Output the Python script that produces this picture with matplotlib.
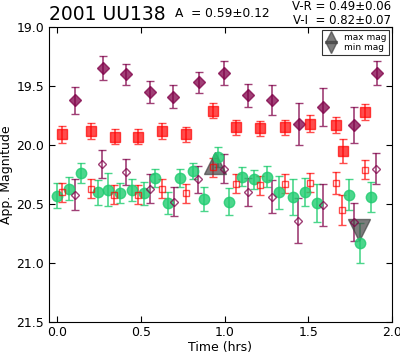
import numpy as np
import matplotlib
matplotlib.use("Agg")
import matplotlib.pyplot as plt

# I band (filled diamonds) and shifted V-I (open diamonds)
t_i = [0.108, 0.275, 0.413, 0.551, 0.689, 0.844, 0.994, 1.138, 1.281, 1.443, 1.587, 1.772, 1.910]
mag_i = [19.62, 19.35, 19.40, 19.55, 19.59, 19.47, 19.39, 19.58, 19.62, 19.82, 19.68, 19.83, 19.39]
err_i = [0.115, 0.10, 0.09, 0.095, 0.10, 0.09, 0.10, 0.10, 0.125, 0.18, 0.16, 0.15, 0.10]
t_i2 = [0.108, 0.269, 0.413, 0.551, 0.695, 0.838, 0.994, 1.138, 1.281, 1.437, 1.587, 1.772, 1.904]
mag_i2 = [20.42, 20.16, 20.23, 20.37, 20.48, 20.29, 20.20, 20.40, 20.44, 20.64, 20.51, 20.65, 20.20]
err_i2 = [0.13, 0.12, 0.11, 0.12, 0.12, 0.115, 0.12, 0.12, 0.14, 0.19, 0.18, 0.16, 0.13]

# R band (filled squares) and shifted V-R (open squares)
t_r = [0.030, 0.204, 0.347, 0.479, 0.623, 0.766, 0.928, 1.066, 1.210, 1.359, 1.509, 1.665, 1.707, 1.838]
mag_r = [19.91, 19.88, 19.93, 19.93, 19.88, 19.91, 19.71, 19.85, 19.86, 19.85, 19.82, 19.83, 20.05, 19.72]
err_r = [0.07, 0.07, 0.065, 0.065, 0.07, 0.065, 0.065, 0.065, 0.065, 0.065, 0.07, 0.07, 0.10, 0.065]
t_r2 = [0.030, 0.204, 0.341, 0.479, 0.623, 0.766, 0.928, 1.066, 1.210, 1.359, 1.509, 1.665, 1.701, 1.838]
mag_r2 = [20.40, 20.37, 20.42, 20.42, 20.37, 20.41, 20.19, 20.33, 20.34, 20.33, 20.32, 20.32, 20.55, 20.21]
err_r2 = [0.08, 0.08, 0.08, 0.08, 0.08, 0.08, 0.08, 0.08, 0.08, 0.08, 0.08, 0.095, 0.13, 0.08]

# V band (green circles)
t_v = [0.0, 0.072, 0.144, 0.240, 0.305, 0.377, 0.449, 0.515, 0.581, 0.659, 0.731, 0.808, 0.874, 0.958,
       1.024, 1.102, 1.174, 1.251, 1.323, 1.407, 1.479, 1.551, 1.743, 1.808, 1.874]
mag_v = [20.43, 20.37, 20.24, 20.40, 20.38, 20.41, 20.38, 20.41, 20.28, 20.49, 20.28, 20.22, 20.46, 20.10,
         20.48, 20.27, 20.29, 20.27, 20.40, 20.44, 20.40, 20.49, 20.42, 20.83, 20.44]
err_v = [0.105, 0.095, 0.085, 0.105, 0.14, 0.085, 0.095, 0.095, 0.075, 0.095, 0.075, 0.065, 0.10, 0.085,
         0.115, 0.08, 0.08, 0.09, 0.14, 0.15, 0.12, 0.16, 0.135, 0.17, 0.125]

# max / min magnitude markers
t_max, mag_max = 0.94, 20.15
t_min, mag_min = 1.80, 20.72

purple = "#800048"
green = "#1fcc70"

fig = plt.figure(figsize=(4.0, 3.55), dpi=100)
ax = fig.add_axes([0.1225, 0.093, 0.8575, 0.831])

ax.errorbar(t_i, mag_i, yerr=err_i, fmt="D", color=purple, ms=6.5, mec=purple,
            capsize=3, elinewidth=1.2, alpha=0.75)
ax.errorbar(t_r, mag_r, yerr=err_r, fmt="s", color="red", ms=6.5, mec="red",
            capsize=3, elinewidth=1.2, alpha=0.7)
ax.errorbar(t_v, mag_v, yerr=err_v, fmt="o", color=green, ms=7.5, mec=green,
            capsize=3, elinewidth=1.2, alpha=0.8)
ax.errorbar(t_r2, mag_r2, yerr=err_r2, fmt="s", color="red", ms=4.2, mfc="none",
            mec="red", capsize=3, elinewidth=1.2, alpha=0.7)
ax.errorbar(t_i2, mag_i2, yerr=err_i2, fmt="D", color=purple, ms=4.2, mfc="none",
            mec=purple, capsize=3, elinewidth=1.2, alpha=0.75)

ax.plot([t_max], [mag_max], "^", color="#444444", ms=16, alpha=0.7, label="max mag")
ax.plot([t_min], [mag_min], "v", color="#444444", ms=16, alpha=0.7, label="min mag")

ax.set_xlim(-0.05, 2.0)
ax.set_ylim(21.5, 19.0)
ax.set_xticks([0.0, 0.5, 1.0, 1.5, 2.0])
ax.set_yticks([19.0, 19.5, 20.0, 20.5, 21.0, 21.5])
ax.tick_params(direction="in", top=True, right=True, labelsize=9, length=4)
ax.tick_params(axis="x", pad=3)
ax.set_xlabel("Time (hrs)", fontsize=9, labelpad=1)
ax.set_ylabel("App. Magnitude", fontsize=9, labelpad=2)

leg = ax.legend(loc="upper right", fontsize=6.5, markerscale=0.55, numpoints=1,
                fancybox=False, edgecolor="black", labelspacing=0.15,
                handlelength=1.2, borderaxespad=0.3, borderpad=0.35)
leg.get_frame().set_linewidth(0.8)

fig.text(0.1225, 0.932, "2001 UU138", fontsize=13.5, va="bottom", ha="left")
fig.text(0.437, 0.962, "A  = 0.59\u00b10.12", fontsize=8.8, va="center", ha="left")
fig.text(0.977, 0.982, "V-R = 0.49\u00b10.06", fontsize=8.5, va="center", ha="right")
fig.text(0.977, 0.943, "V-I  = 0.82\u00b10.07", fontsize=8.5, va="center", ha="right")

fig.savefig("out.png", dpi=100)
